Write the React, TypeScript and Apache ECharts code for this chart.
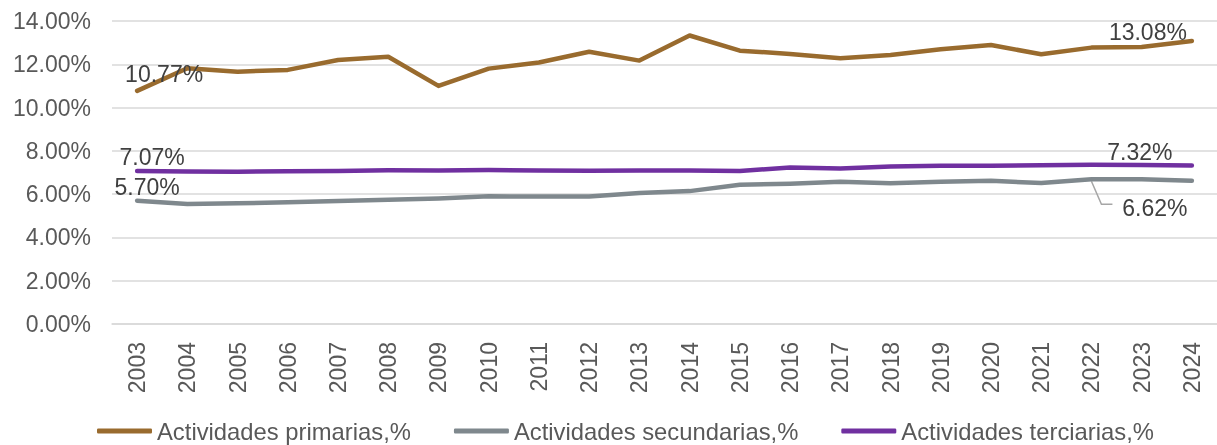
import React, { useEffect, useRef } from "react";
import * as echarts from "echarts";

const years = ["2003","2004","2005","2006","2007","2008","2009","2010","2011","2012","2013","2014","2015","2016","2017","2018","2019","2020","2021","2022","2023","2024"];
const primarias = [10.77,11.82,11.66,11.74,12.2,12.35,11.0,11.8,12.08,12.58,12.17,13.33,12.63,12.48,12.28,12.43,12.69,12.89,12.46,12.77,12.8,13.08];
const secundarias = [5.7,5.54,5.58,5.62,5.68,5.74,5.8,5.9,5.89,5.89,6.05,6.14,6.43,6.48,6.57,6.5,6.57,6.62,6.51,6.69,6.69,6.62];
const terciarias = [7.07,7.05,7.04,7.06,7.07,7.1,7.09,7.11,7.09,7.08,7.09,7.09,7.07,7.23,7.18,7.28,7.31,7.31,7.33,7.36,7.35,7.32];
const seriesNames = ["Actividades primarias,%","Actividades secundarias,%","Actividades terciarias,%"];
const yTicks = { min: 0, max: 14, interval: 2 };

const FONT = "Liberation Sans, Arial, sans-serif";
const FS = 23;

function withLabels(values: number[], labels: Record<number, number[]>) {
  return values.map((v, i) => {
    const off = labels[i];
    if (!off) return v;
    return {
      value: v,
      label: {
        show: true,
        position: "inside",
        offset: off,
        formatter: (p: any) => p.value.toFixed(2) + "%",
        color: "#404040",
        fontSize: FS,
        fontFamily: FONT,
      },
    };
  });
}

export default function App() {
  const ref = useRef<HTMLDivElement>(null);
  useEffect(() => {
    if (!ref.current) return;
    const chart = echarts.init(ref.current, null, { renderer: "svg" });
    const last = years.length - 1;
    const mk = (name: string, data: any[], color: string) => ({
      name,
      type: "line",
      data,
      symbol: "circle",
      symbolSize: 1,
      showSymbol: true,
      itemStyle: { color },
      lineStyle: { color, width: 4.5, cap: "round", join: "round" },
      emphasis: { disabled: true },
      z: 3,
    });
    chart.setOption({
      animation: false,
      grid: { left: 112, right: 0, top: 21, bottom: 121, containLabel: false },
      xAxis: {
        type: "category",
        data: years,
        boundaryGap: true,
        axisLine: { show: true, lineStyle: { color: "#d9d9d9", width: 1.5 } },
        axisTick: { show: false },
        axisLabel: { rotate: 90, margin: 18, color: "#595959", fontSize: FS, fontFamily: FONT },
      },
      yAxis: {
        type: "value",
        min: yTicks.min,
        max: yTicks.max,
        interval: yTicks.interval,
        axisLine: { show: false },
        axisTick: { show: false },
        splitLine: { lineStyle: { color: "#d9d9d9", width: 1.5 } },
        axisLabel: {
          margin: 21,
          color: "#595959",
          fontSize: FS,
          fontFamily: FONT,
          formatter: (v: number) => v.toFixed(2) + "%",
        },
      },
      legend: {
        left: 92,
        top: 419,
        padding: [0, 5],
        itemWidth: 55,
        itemHeight: 5,
        itemGap: 43,
        icon: "roundRect",
        textStyle: { color: "#595959", fontSize: 23.8, fontFamily: FONT },
        data: seriesNames,
      },
      series: [
        mk(seriesNames[0], withLabels(primarias, { 0: [27, -17], [last]: [-44, -9] }), "#996b2e"),
        mk(seriesNames[1], withLabels(secundarias, { 0: [10, -14], [last]: [-37, 27] }), "#7f888d"),
        mk(seriesNames[2], withLabels(terciarias, { 0: [15, -14], [last]: [-52, -14] }), "#7030a0"),
      ],
    });
    const p = chart.convertToPixel({ xAxisIndex: 0, yAxisIndex: 0 }, [years[19], secundarias[19]]) as number[];
    chart.setOption({
      graphic: [
        {
          type: "polyline",
          shape: { points: [[p[0], p[1] + 2], [p[0] + 10, p[1] + 25], [p[0] + 21, p[1] + 25]] },
          style: { stroke: "#a6a6a6", lineWidth: 1.5, fill: "none" },
          z: 2,
        },
      ],
    });
    return () => chart.dispose();
  }, []);
  return <div ref={ref} style={{ position: "fixed", left: 0, top: 0, width: 1217, height: 445 }} />;
}
